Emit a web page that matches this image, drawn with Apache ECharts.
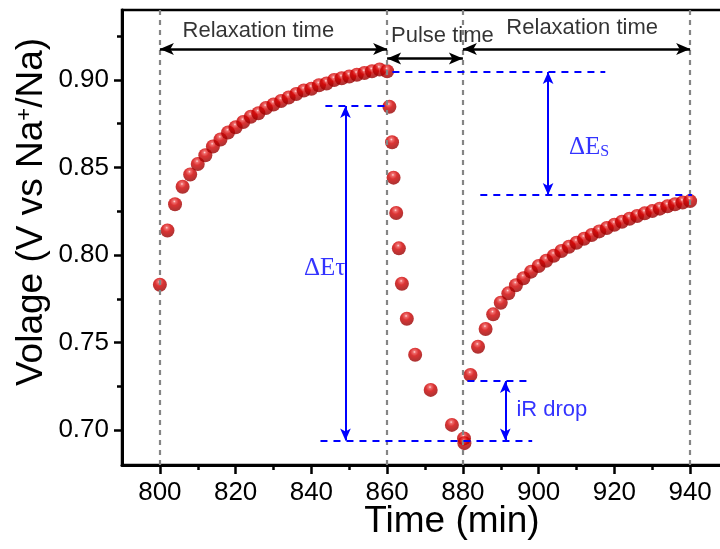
<!DOCTYPE html>
<html>
<head>
<meta charset="utf-8">
<script src="https://cdn.jsdelivr.net/npm/echarts@6/dist/echarts.min.js"></script>
<style>html,body{margin:0;padding:0;background:#fff}#c{width:720px;height:549px}</style>
</head>
<body>
<div id="c"></div>
<script>
// ---- data ----
const relax1Time = [800,802,804,806,808,810,812,814,816,818,820,822,824,826,828,830,832,834,836,838,840,842,844,846,848,850,852,854,856,858,860];
const relax1Volt = [0.783,0.814,0.829,0.839,0.846,0.852,0.857,0.862,0.866,0.870,0.873,0.876,0.879,0.881,0.884,0.886,0.888,0.890,0.892,0.894,0.895,0.897,0.898,0.900,0.901,0.902,0.903,0.904,0.905,0.906,0.905];
const pulseTime = [860.6,861.3,861.7,862.4,863.1,863.9,865.2,867.4,871.5,877.1,880.3,880.4];
const pulseVolt = [0.8847,0.8644,0.8442,0.8240,0.8038,0.7836,0.7636,0.7430,0.7229,0.7029,0.6952,0.6925];
const relax2Time = [882,884,886,888,890,892,894,896,898,900,902,904,906,908,910,912,914,916,918,920,922,924,926,928,930,932,934,936,938,940];
const relax2Volt = [0.7314,0.7476,0.7577,0.7661,0.7727,0.7781,0.7827,0.7867,0.7905,0.7937,0.7967,0.7996,0.8023,0.8047,0.8070,0.8093,0.8114,0.8135,0.8154,0.8173,0.8190,0.8207,0.8223,0.8238,0.8251,0.8265,0.8278,0.8290,0.8300,0.8308];

const xMajorTicks = [800,820,840,860,880,900,920,940];
const xMinorTicks = [810,830,850,870,890,910,930];
const yMajorTicks = [0.70,0.75,0.80,0.85,0.90];
const yMinorTicks = [0.725,0.775,0.825,0.875,0.925];

// annotations (data coordinates)
const phaseBoundaries = [800,860,880,940];
const timeArrows = [[800,860,0.9177],[860,880,0.9123],[880,940,0.9177]]; // x1,x2,y
const timeLabels = ['Relaxation time','Pulse time','Relaxation time'];
const timeLabelX = [826,874.6,911.5];
const timeLabelY = [0.928,0.9251,0.9297];
const blueDashH = [[843.7,859.8,0.8851],[842.4,898.3,0.6940],[881.2,897.3,0.7280],[861.4,917.6,0.9046],[884.6,940.5,0.8343]]; // x1,x2,y
const blueArrowsV = [[849.0,0.8851,0.6940],[891.2,0.7280,0.6940],[902.5,0.9046,0.8343]]; // x,y1,y2
const blueLabels = ['{g|ΔEτ}','{g|ΔE}{s|S}','{a|iR drop}'];
const blueLabelX = [843.5,913.3,903.5];
const blueLabelY = [0.7926,0.8617,0.7114];

const xMin = 790, xMax = 950, yMin = 0.68, yMax = 0.94;

const zip = (a,b)=>a.map((v,i)=>[v,b[i]]);
const pts = zip(relax1Time,relax1Volt).concat(zip(pulseTime,pulseVolt)).concat(zip(relax2Time,relax2Volt));

const chart = echarts.init(document.getElementById('c'), null, {renderer:'canvas'});
const SANS = 'Liberation Sans, Arial, sans-serif';
const SERIF = 'Liberation Serif, Times New Roman, serif';

const ball = new echarts.graphic.RadialGradient(0.45, 0.3, 0.65, [
  {offset:0, color:'#ffd6d6'},
  {offset:0.15, color:'#ec4a4a'},
  {offset:0.45, color:'#d20000'},
  {offset:1, color:'#9a0000'}
]);

const option = {
  animation:false,
  backgroundColor:'#fff',
  grid:{left:122, top:10, right:-8, bottom:84, show:true, borderColor:'#000', borderWidth:2.5, containLabel:false, outerBoundsMode:'none'},
  xAxis:[
    {type:'value', min:xMin, max:xMax, position:'bottom',
     axisLine:{show:true, onZero:false, lineStyle:{color:'#000', width:3}},
     axisTick:{show:true, length:9, customValues:xMajorTicks, lineStyle:{color:'#000', width:2.5}},
     axisLabel:{show:true, customValues:xMajorTicks, margin:15, fontSize:26, color:'#000', fontFamily:SANS},
     splitLine:{show:false}},
    {type:'value', min:xMin, max:xMax, position:'bottom',
     axisLine:{show:false, onZero:false},
     axisTick:{show:true, length:5, customValues:xMinorTicks, lineStyle:{color:'#000', width:2.5}},
     axisLabel:{show:false}, splitLine:{show:false}}
  ],
  yAxis:[
    {type:'value', min:yMin, max:yMax, position:'left',
     axisLine:{show:true, onZero:false, lineStyle:{color:'#000', width:3}},
     axisTick:{show:true, length:8, customValues:yMajorTicks, lineStyle:{color:'#000', width:2.5}},
     axisLabel:{show:true, customValues:yMajorTicks, margin:13, fontSize:26, color:'#000', fontFamily:SANS, formatter:v=>v.toFixed(2)},
     splitLine:{show:false}},
    {type:'value', min:yMin, max:yMax, position:'left',
     axisLine:{show:false, onZero:false},
     axisTick:{show:true, length:5, customValues:yMinorTicks, lineStyle:{color:'#000', width:2.5}},
     axisLabel:{show:false}, splitLine:{show:false}}
  ],
  graphic:[
    {type:'text', x:452, y:522, style:{text:'Time (min)', fontSize:37, fontFamily:SANS, fill:'#000', align:'center', verticalAlign:'middle'}},
    {type:'text', x:32, y:212, rotation:Math.PI/2, style:{text:'{a|Volage (V vs Na}{s|+}{a|/Na)}', align:'center', verticalAlign:'middle', fill:'#000',
      rich:{a:{fontSize:37, fontFamily:SANS, fill:'#000'}, s:{fontSize:22, fontFamily:SANS, fill:'#000', verticalAlign:'top'}}}}
  ],
  series:[
    {type:'scatter', name:'V', xAxisIndex:0, yAxisIndex:0, data:pts, symbol:'circle', symbolSize:14,
     itemStyle:{color:ball}, z:2, silent:true},
    {type:'scatter', name:'guides', xAxisIndex:0, yAxisIndex:0, data:[], z:5, silent:true,
     markLine:{silent:true, animation:false, symbol:['none','none'], label:{show:false},
       lineStyle:{type:[5,5], color:'#858585', width:2.2},
       data: phaseBoundaries.map(x=>[{coord:[x,yMin]},{coord:[x,yMax]}])}},
    {type:'scatter', name:'blueDash', xAxisIndex:0, yAxisIndex:0, data:[], z:6, silent:true,
     markLine:{silent:true, animation:false, symbol:['none','none'], label:{show:false},
       lineStyle:{type:[7,6], color:'#0000ff', width:2},
       data: blueDashH.map(d=>[{coord:[d[0],d[2]]},{coord:[d[1],d[2]]}])}},
    {type:'scatter', name:'blueArrows', xAxisIndex:0, yAxisIndex:0, data:[], z:6, silent:true,
     markLine:{silent:true, animation:false, symbol:['arrow','arrow'], symbolSize:[8,12], label:{show:false},
       lineStyle:{type:'solid', color:'#0000ff', width:2},
       data: blueArrowsV.map(d=>[{coord:[d[0],d[1]]},{coord:[d[0],d[2]]}])}},
    {type:'scatter', name:'timeArrows', xAxisIndex:0, yAxisIndex:0, data:[], z:6, silent:true,
     markLine:{silent:true, animation:false, symbol:['arrow','arrow'], symbolSize:[9,14], label:{show:false},
       lineStyle:{type:'solid', color:'#000', width:2.5},
       data: timeArrows.map(d=>[{coord:[d[0],d[2]]},{coord:[d[1],d[2]]}])}},
    {type:'scatter', name:'timeLabels', xAxisIndex:0, yAxisIndex:0, symbolSize:0, z:7, silent:true,
     data: timeLabels.map((t,i)=>[timeLabelX[i], timeLabelY[i], t]),
     label:{show:true, position:'inside', formatter:p=>p.data[2], fontSize:22, fontFamily:SANS, color:'#000'}},
    {type:'scatter', name:'blueLabels', xAxisIndex:0, yAxisIndex:0, symbolSize:0, z:7, silent:true,
     data: blueLabels.map((t,i)=>[blueLabelX[i], blueLabelY[i], t]),
     label:{show:true, position:'inside', formatter:p=>p.data[2], color:'#0000ff',
       rich:{g:{fontSize:25, fontFamily:SERIF, color:'#0000ff'},
             s:{fontSize:16, fontFamily:SERIF, color:'#0000ff', verticalAlign:'bottom'},
             a:{fontSize:22, fontFamily:SANS, color:'#0000ff'}}}}
  ]
};
chart.setOption(option);
</script>
</body>
</html>
